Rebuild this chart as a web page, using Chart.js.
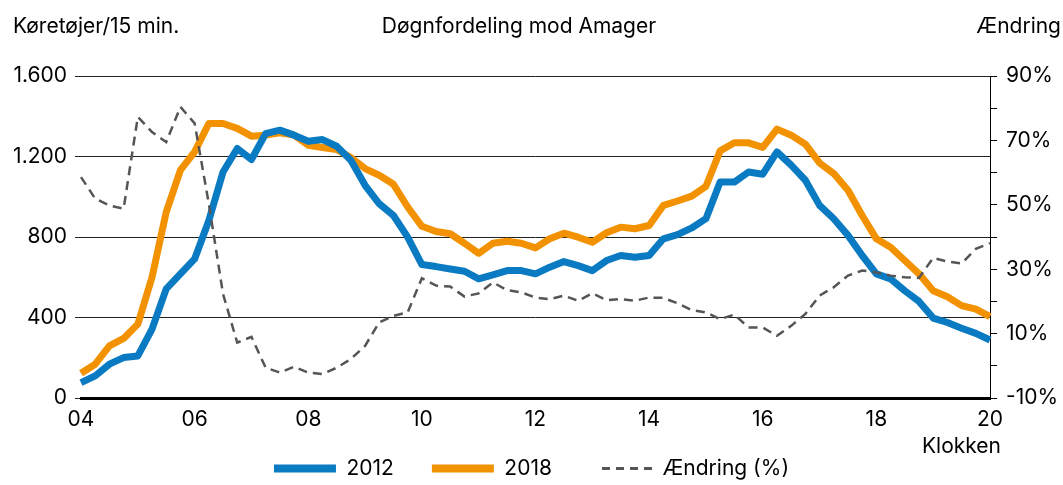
<!DOCTYPE html>
<html>
<head>
<meta charset="utf-8">
<script src="https://cdn.jsdelivr.net/npm/chart.js@4.4.1/dist/chart.umd.min.js"></script>
<style>
  html, body { margin: 0; padding: 0; background: #fff; }
</style>
</head>
<body>
<canvas id="myChart" width="1063" height="485"></canvas>
<script>
// Quarter-hour slots from 04:00 to 20:00
let timeLabels = [];
for (let h = 4; h <= 20; h++) {
    for (let q = 0; q < 4; q++) {
        if (h === 20 && q > 0) break;
        timeLabels.push(String(h).padStart(2, '0') + ':' + String(q * 15).padStart(2, '0'));
    }
}

// Vehicles per 15 min (left axis)
let values2012 = [76, 110, 168, 201, 209, 342, 542, 617, 691, 882, 1123, 1240, 1185, 1314, 1331, 1306, 1276, 1284, 1251, 1181, 1057, 965, 907, 799, 663,
    653, 641, 630, 592, 612, 633, 633, 617, 650, 678, 658, 633, 683, 708, 699, 708, 791, 812, 845,
    891, 1073, 1073, 1123, 1112, 1223, 1157, 1082, 957, 891, 808, 708, 617, 592, 533, 480, 397, 375, 347, 321, 288];

let values2018 = [123, 168, 259, 296, 367, 600, 924, 1132, 1223, 1364, 1364, 1340, 1301, 1306, 1318, 1306, 1256, 1245, 1235, 1195, 1140, 1107, 1062, 949, 853,
    827, 816, 769, 719, 769, 779, 769, 746, 791, 819, 799, 774, 821, 849, 841, 857, 957, 979, 1003,
    1052, 1228, 1268, 1268, 1245, 1336, 1306, 1261, 1168, 1115, 1032, 907, 791, 749, 683, 617, 533, 503, 459, 442, 404];

// Change in percent (right axis)
let changePct = [58.6, 51.9, 49.8, 48.8, 77.3, 72.6, 69.5, 80.4, 75.3, 50.3, 22.3, 7.2, 9.0, -0.6, -2.1, -0.3, -2.1, -2.6, -0.6, 2.1, 6.2, 13.5, 15.5, 16.6, 27.2,
    24.9, 24.6, 21.5, 22.5, 25.9, 23.5, 22.8, 21.2, 20.7, 21.8, 20.2, 22.5, 20.4, 20.7, 20.2, 21.2, 21.1, 19.4, 17.3,
    16.6, 14.5, 15.9, 11.9, 11.9, 9.3, 12.4, 16.1, 21.8, 24.4, 28.0, 29.6, 29.0, 28.0, 27.5, 27.3, 33.5, 32.4, 31.8, 36.3, 38.1];

let fontFamily = 'Inter, "Noto Sans", sans-serif';
let fontSize = 21;

// small dashed swatch for the legend (the built-in line style ignores the dash)
let dashSwatch = document.createElement('canvas');
dashSwatch.width = 62;
dashSwatch.height = 3;
let sctx = dashSwatch.getContext('2d');
sctx.fillStyle = '#555';
for (let x = 12; x < 62; x += 14) {
    sctx.fillRect(x, 0, 8, 3);
}

// Texts around the plot: axis captions, title, x caption
let captionPlugin = {
    id: 'captions',
    afterDraw(chart) {
        let ctx = chart.ctx;
        ctx.save();
        ctx.fillStyle = '#000';
        ctx.font = fontSize + 'px ' + fontFamily;
        ctx.textBaseline = 'alphabetic';
        ctx.textAlign = 'left';
        ctx.fillText('Køretøjer/15 min.', 13, 33);
        ctx.textAlign = 'center';
        ctx.fillText('Døgnfordeling mod Amager', 519, 33);
        ctx.textAlign = 'right';
        ctx.fillText('Ændring', 1061, 33);
        ctx.fillText('Klokken', 1001, 453);
        ctx.restore();
    }
};

let ctx = document.getElementById('myChart').getContext('2d');

let chart = new Chart(ctx, {
    type: 'line',
    data: {
        labels: timeLabels,
        datasets: [
            {
                label: '2012',
                data: values2012,
                borderColor: '#0a7bc2',
                backgroundColor: '#0a7bc2',
                borderWidth: 7,
                pointRadius: 0,
                borderJoinStyle: 'round',
                yAxisID: 'y',
                order: 1
            },
            {
                label: '2018',
                data: values2018,
                borderColor: '#f39200',
                backgroundColor: '#f39200',
                borderWidth: 7,
                pointRadius: 0,
                borderJoinStyle: 'round',
                yAxisID: 'y',
                order: 2
            },
            {
                label: 'Ændring (%)',
                data: changePct,
                borderColor: '#555',
                backgroundColor: '#555',
                borderWidth: 2.5,
                borderDash: [9, 6],
                pointRadius: 0,
                yAxisID: 'y2',
                order: 0
            }
        ]
    },
    options: {
        responsive: false,
        animation: false,
        layout: {
            padding: { top: 76, left: 0, right: 0, bottom: -4 }
        },
        plugins: {
            title: { display: false },
            tooltip: { enabled: false },
            legend: {
                position: 'bottom',
                labels: {
                    usePointStyle: true,
                    pointStyle: 'line',
                    pointStyleWidth: 62,
                    padding: 38,
                    color: '#000',
                    font: { family: fontFamily, size: fontSize },
                    sort: (a, b) => a.datasetIndex - b.datasetIndex,
                    generateLabels: function(chart) {
                        let items = Chart.defaults.plugins.legend.labels.generateLabels(chart);
                        items.forEach(item => {
                            if (item.datasetIndex === 2) {
                                item.pointStyle = dashSwatch;
                            } else {
                                item.lineWidth = 8;
                            }
                        });
                        return items;
                    }
                }
            }
        },
        scales: {
            x: {
                offset: false,
                grid: { display: false, drawTicks: false },
                border: { display: true, color: '#000', width: 3 },
                ticks: {
                    autoSkip: false,
                    maxRotation: 0,
                    // mirror keeps the labels from being clipped to the slim axis box
                    mirror: true,
                    padding: -34,
                    color: '#000',
                    font: { family: fontFamily, size: fontSize },
                    callback: function(value, index) {
                        return index % 8 === 0 ? timeLabels[index].slice(0, 2) : null;
                    }
                },
                afterFit: function(scale) { scale.height = 22; }
            },
            y: {
                position: 'left',
                min: 0,
                max: 1600,
                grid: { color: '#222', lineWidth: 1, tickLength: 6 },
                border: { display: false },
                ticks: {
                    stepSize: 400,
                    padding: 8,
                    color: '#000',
                    font: { family: fontFamily, size: fontSize },
                    callback: function(value) {
                        return String(value).replace(/\B(?=(\d{3})+(?!\d))/g, '.');
                    }
                },
                afterFit: function(scale) { scale.width = 81; }
            },
            y2: {
                position: 'right',
                min: -10,
                max: 90,
                grid: { drawOnChartArea: false, color: '#000', tickLength: 7 },
                border: { display: true, color: '#000', width: 1 },
                ticks: {
                    stepSize: 10,
                    padding: 9,
                    color: '#000',
                    font: { family: fontFamily, size: fontSize },
                    callback: function(value) {
                        return (value + 10) % 20 === 0 ? value + '%' : '';
                    }
                },
                afterFit: function(scale) { scale.width = 73; }
            }
        }
    },
    plugins: [captionPlugin]
});
</script>
</body>
</html>
